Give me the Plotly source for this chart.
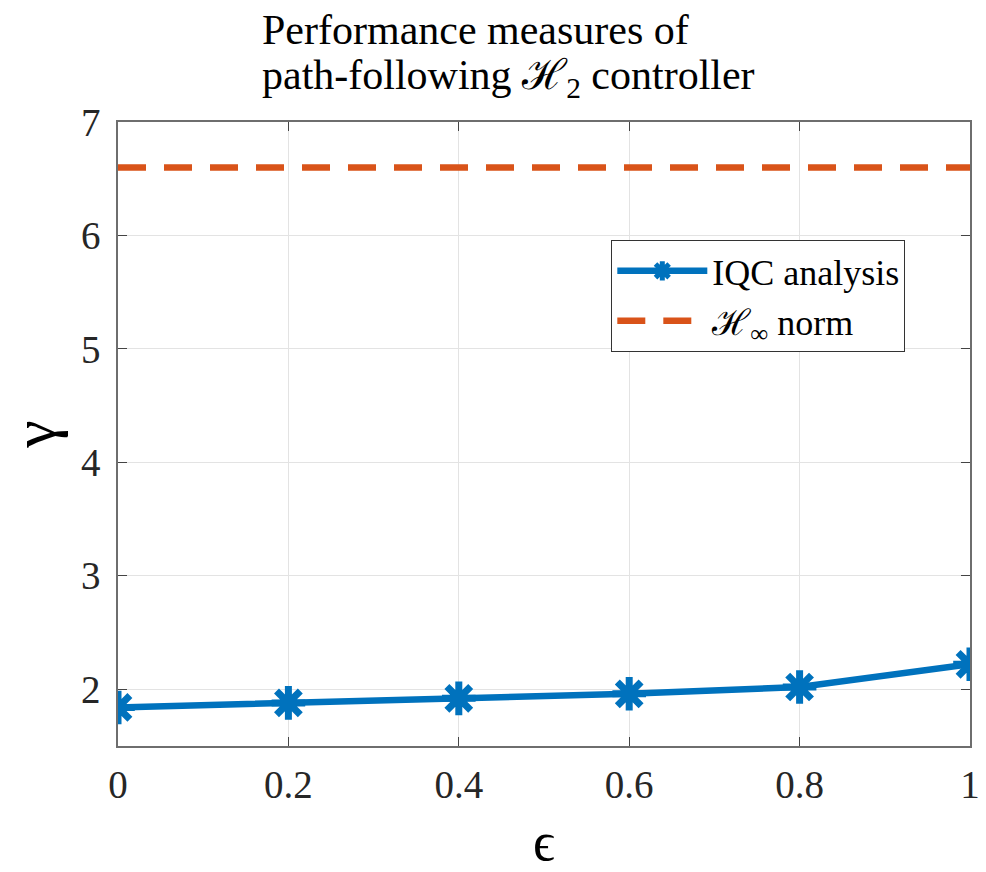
import plotly.graph_objects as go

# Performance of the path-following H2 controller versus epsilon
epsilon = [0, 0.2, 0.4, 0.6, 0.8, 1.0]
gamma_iqc = [1.84, 1.88, 1.92, 1.96, 2.02, 2.22]
hinf_norm = 6.6

x_ticks = [0, 0.2, 0.4, 0.6, 0.8, 1]
x_tick_text = ["0", "0.2", "0.4", "0.6", "0.8", "1"]
y_ticks = [2, 3, 4, 5, 6, 7]

title_lines = ["Performance measures of", "path-following ℋ<sub>2</sub> controller"]

BLUE = "#0072BD"
ORANGE = "#D95319"
FONT = "Liberation Serif, DejaVu Serif, serif"

fig = go.Figure()

fig.add_trace(go.Scatter(
    x=epsilon, y=gamma_iqc,
    mode="lines+markers",
    name="IQC analysis",
    line=dict(color=BLUE, width=6.5),
    marker=dict(symbol="asterisk-open", size=28, color=BLUE,
                line=dict(color=BLUE, width=7)),
))

fig.add_trace(go.Scatter(
    x=[epsilon[0], epsilon[-1]], y=[hinf_norm, hinf_norm],
    mode="lines",
    name="ℋ<sub>∞</sub> norm",
    line=dict(color=ORANGE, width=6.5, dash="28px,18px"),
))

axis_common = dict(
    showline=True, linecolor="#6e6e6e", linewidth=1.5, mirror="ticks",
    ticks="inside", ticklen=9, tickcolor="#444444", tickwidth=1.2,
    showgrid=True, gridcolor="#e3e3e3", gridwidth=1,
    zeroline=False, automargin=False,
    tickfont=dict(family=FONT, size=39, color="#262626"),
)

# two-line heading above the axes, lines left-aligned on a common edge
for text, ypos in zip(title_lines, [1.147, 1.070]):
    fig.add_annotation(
        text=text, xref="paper", yref="paper", x=(260 - 118) / 852, y=ypos,
        xanchor="left", yanchor="middle", showarrow=False,
        font=dict(family=FONT, size=42, color="#000000"),
    )

fig.update_layout(
    width=986, height=872,
    margin=dict(l=118, r=16, t=122, b=126),
    paper_bgcolor="white", plot_bgcolor="white",
    font=dict(family=FONT, color="#000000"),
    xaxis=dict(
        range=[0, 1], tickvals=x_ticks, ticktext=x_tick_text,
        ticklabelstandoff=3,
        title=dict(text="ϵ", font=dict(family=FONT, size=54), standoff=30),
        **axis_common,
    ),
    yaxis=dict(
        range=[1.5, 7], tickvals=y_ticks,
        ticklabelstandoff=8,
        title=dict(text="γ", font=dict(family=FONT, size=62), standoff=14),
        **axis_common,
    ),
    legend=dict(
        x=0.579, y=0.811, xanchor="left", yanchor="top",
        bgcolor="white", bordercolor="#333333", borderwidth=1,
        font=dict(family=FONT, size=36, color="#000000"),
        itemwidth=90,
    ),
    showlegend=True,
)

fig.write_html("out.html")
